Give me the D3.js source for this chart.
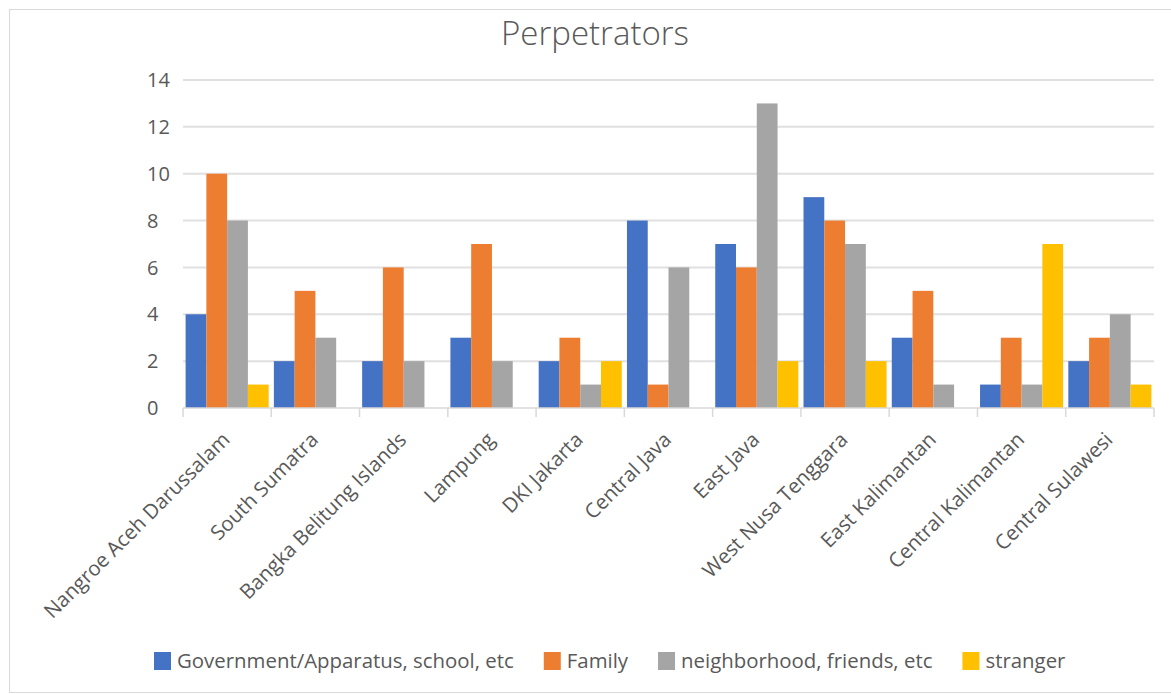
<!DOCTYPE html>
<html>
<head>
<meta charset="utf-8">
<script src="https://cdn.jsdelivr.net/npm/d3@7"></script>
<style>
  body { margin: 0; background: #fff; }
  svg text { font-family: "Open Sans", sans-serif; fill: #595959; }
</style>
</head>
<body>
<svg width="1171" height="694"></svg>
<script>
'use strict';

var categories = ["Nangroe Aceh Darussalam", "South Sumatra", "Bangka Belitung Islands", "Lampung",
  "DKI Jakarta", "Central Java", "East Java", "West Nusa Tenggara", "East Kalimantan",
  "Central Kalimantan", "Central Sulawesi"];
var seriesNames = ["Government/Apparatus, school, etc", "Family", "neighborhood, friends, etc", "stranger"];
var government = [4, 2, 2, 3, 2, 8, 7, 9, 3, 1, 2];
var family = [10, 5, 6, 7, 3, 1, 6, 8, 5, 3, 3];
var neighborhood = [8, 3, 2, 2, 1, 6, 13, 7, 1, 1, 4];
var stranger = [1, 0, 0, 0, 2, 0, 2, 2, 0, 7, 1];
var yTicks = [0, 2, 4, 6, 8, 10, 12, 14];
var colors = ["#4472C4", "#ED7D31", "#A5A5A5", "#FFC000"];

var allSeries = [government, family, neighborhood, stranger];

var svg = d3.select("svg");

// chart frame
svg.append("rect")
  .attr("x", 9.5).attr("y", 9.5)
  .attr("width", 1180).attr("height", 683)
  .attr("fill", "#fff").attr("stroke", "#d9d9d9");

var margin = {left: 183, right: 1154, top: 80, bottom: 408};

var x0 = d3.scaleBand().domain(categories).range([margin.left, margin.right]).paddingInner(0).paddingOuter(0);
var x1 = d3.scaleBand().domain(d3.range(4)).range([0, x0.bandwidth()]).paddingInner(0).paddingOuter(0.125);
var y = d3.scaleLinear().domain([0, 14]).range([margin.bottom, margin.top]);

// gridlines
svg.append("g").selectAll("line")
  .data(yTicks.filter(function(d){ return d > 0; }))
  .enter().append("line")
  .attr("x1", margin.left).attr("x2", margin.right)
  .attr("y1", function(d){ return y(d); }).attr("y2", function(d){ return y(d); })
  .attr("stroke", "#e0e0e0").attr("stroke-width", 2);

// y tick labels
svg.append("g").selectAll("text")
  .data(yTicks)
  .enter().append("text")
  .attr("x", 147)
  .attr("y", function(d){ return y(d); })
  .attr("dy", "0.36em")
  .style("font-size", "20px")
  .text(function(d){ return d; });

// bars
var groups = svg.append("g").selectAll("g")
  .data(categories)
  .enter().append("g")
  .attr("transform", function(d){ return "translate(" + x0(d) + ",0)"; });

groups.selectAll("rect")
  .data(function(d, i){ return allSeries.map(function(s, k){ return {k: k, v: s[i]}; }); })
  .enter().append("rect")
  .attr("x", function(d){ return x1(d.k); })
  .attr("width", x1.bandwidth())
  .attr("y", function(d){ return y(d.v); })
  .attr("height", function(d){ return y(0) - y(d.v); })
  .attr("fill", function(d){ return colors[d.k]; });

// x axis
var xAxis = svg.append("g").attr("transform", "translate(0," + margin.bottom + ")");
xAxis.append("line")
  .attr("x1", margin.left).attr("x2", margin.right)
  .attr("stroke", "#d9d9d9").attr("stroke-width", 1.5);
xAxis.selectAll(".tick")
  .data(categories.concat(["end"]))
  .enter().append("line")
  .attr("x1", function(d, i){ return margin.left + i * x0.step(); })
  .attr("x2", function(d, i){ return margin.left + i * x0.step(); })
  .attr("y1", 0).attr("y2", 9)
  .attr("stroke", "#d9d9d9").attr("stroke-width", 1.5);

xAxis.selectAll("text")
  .data(categories)
  .enter().append("text")
  .attr("text-anchor", "end")
  .style("font-size", "20.4px")
  .attr("transform", function(d){
    var cx = x0(d) + x0.bandwidth() / 2 + 4;
    return "translate(" + cx + ",33) rotate(-45)";
  })
  .text(function(d){ return d; });

// title
svg.append("text")
  .attr("x", 595).attr("y", 45)
  .attr("text-anchor", "middle")
  .style("font-size", "33px")
  .style("font-weight", 300)
  .text("Perpetrators");

// legend
var legend = svg.append("g");
var lx = 154;
seriesNames.forEach(function(name, i){
  var item = legend.append("g").attr("transform", "translate(" + lx + ",0)");
  item.append("rect").attr("x", 0).attr("y", 652).attr("width", 17).attr("height", 18).attr("fill", colors[i]);
  var t = item.append("text").attr("x", 23).attr("y", 661).attr("dy", "0.36em")
    .style("font-size", "20.4px").text(name);
  lx += 23 + t.node().getComputedTextLength() + 30;
});
</script>
</body>
</html>
